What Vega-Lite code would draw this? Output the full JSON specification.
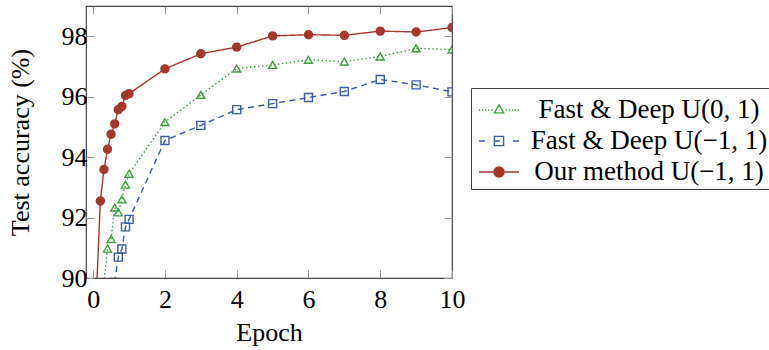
{
  "$schema": "https://vega.github.io/schema/vega-lite/v6.json",
  "width": 366,
  "height": 272,
  "autosize": {"type": "none"},
  "padding": {"left": 86, "top": 6, "right": 317, "bottom": 72},
  "background": "white",
  "config": {
    "view": {"stroke": "#444", "strokeWidth": 1.2},
    "font": "Liberation Serif",
    "axis": {
      "labelFont": "Liberation Serif",
      "labelFontSize": 26,
      "labelColor": "black",
      "labelFlush": false,
      "labelOverlap": false,
      "titleFont": "Liberation Serif",
      "titleFontSize": 26,
      "titleFontWeight": "normal",
      "titleColor": "black",
      "domain": false,
      "grid": false,
      "tickColor": "#999",
      "tickWidth": 1,
      "tickSize": -8
    }
  },
  "data": {
    "values": [
      {"series": "Fast & Deep U(0, 1)", "epoch": 0.3, "acc": 89.85},
      {"series": "Fast & Deep U(0, 1)", "epoch": 0.4, "acc": 90.97},
      {"series": "Fast & Deep U(0, 1)", "epoch": 0.5, "acc": 91.29},
      {"series": "Fast & Deep U(0, 1)", "epoch": 0.6, "acc": 92.33},
      {"series": "Fast & Deep U(0, 1)", "epoch": 0.7, "acc": 92.17},
      {"series": "Fast & Deep U(0, 1)", "epoch": 0.8, "acc": 92.6},
      {"series": "Fast & Deep U(0, 1)", "epoch": 0.9, "acc": 93.09},
      {"series": "Fast & Deep U(0, 1)", "epoch": 1.0, "acc": 93.45},
      {"series": "Fast & Deep U(0, 1)", "epoch": 2, "acc": 95.16},
      {"series": "Fast & Deep U(0, 1)", "epoch": 3, "acc": 96.06},
      {"series": "Fast & Deep U(0, 1)", "epoch": 4, "acc": 96.93},
      {"series": "Fast & Deep U(0, 1)", "epoch": 5, "acc": 97.05},
      {"series": "Fast & Deep U(0, 1)", "epoch": 6, "acc": 97.22},
      {"series": "Fast & Deep U(0, 1)", "epoch": 7, "acc": 97.16},
      {"series": "Fast & Deep U(0, 1)", "epoch": 8, "acc": 97.33},
      {"series": "Fast & Deep U(0, 1)", "epoch": 9, "acc": 97.6},
      {"series": "Fast & Deep U(0, 1)", "epoch": 10, "acc": 97.56},
      {"series": "Fast & Deep U(−1, 1)", "epoch": 0.6, "acc": 89.85},
      {"series": "Fast & Deep U(−1, 1)", "epoch": 0.7, "acc": 90.69},
      {"series": "Fast & Deep U(−1, 1)", "epoch": 0.8, "acc": 90.96},
      {"series": "Fast & Deep U(−1, 1)", "epoch": 0.9, "acc": 91.69},
      {"series": "Fast & Deep U(−1, 1)", "epoch": 1.0, "acc": 91.94},
      {"series": "Fast & Deep U(−1, 1)", "epoch": 2, "acc": 94.55},
      {"series": "Fast & Deep U(−1, 1)", "epoch": 3, "acc": 95.05},
      {"series": "Fast & Deep U(−1, 1)", "epoch": 4, "acc": 95.57},
      {"series": "Fast & Deep U(−1, 1)", "epoch": 5, "acc": 95.77},
      {"series": "Fast & Deep U(−1, 1)", "epoch": 6, "acc": 95.97},
      {"series": "Fast & Deep U(−1, 1)", "epoch": 7, "acc": 96.17},
      {"series": "Fast & Deep U(−1, 1)", "epoch": 8, "acc": 96.57},
      {"series": "Fast & Deep U(−1, 1)", "epoch": 9, "acc": 96.39},
      {"series": "Fast & Deep U(−1, 1)", "epoch": 10, "acc": 96.16},
      {"series": "Our method U(−1, 1)", "epoch": 0.1, "acc": 89.75},
      {"series": "Our method U(−1, 1)", "epoch": 0.2, "acc": 92.55},
      {"series": "Our method U(−1, 1)", "epoch": 0.3, "acc": 93.59},
      {"series": "Our method U(−1, 1)", "epoch": 0.4, "acc": 94.26},
      {"series": "Our method U(−1, 1)", "epoch": 0.5, "acc": 94.76},
      {"series": "Our method U(−1, 1)", "epoch": 0.6, "acc": 95.1},
      {"series": "Our method U(−1, 1)", "epoch": 0.7, "acc": 95.57},
      {"series": "Our method U(−1, 1)", "epoch": 0.8, "acc": 95.68},
      {"series": "Our method U(−1, 1)", "epoch": 0.9, "acc": 96.04},
      {"series": "Our method U(−1, 1)", "epoch": 1.0, "acc": 96.1},
      {"series": "Our method U(−1, 1)", "epoch": 2, "acc": 96.92},
      {"series": "Our method U(−1, 1)", "epoch": 3, "acc": 97.42},
      {"series": "Our method U(−1, 1)", "epoch": 4, "acc": 97.64},
      {"series": "Our method U(−1, 1)", "epoch": 5, "acc": 98.01},
      {"series": "Our method U(−1, 1)", "epoch": 6, "acc": 98.05},
      {"series": "Our method U(−1, 1)", "epoch": 7, "acc": 98.03},
      {"series": "Our method U(−1, 1)", "epoch": 8, "acc": 98.17},
      {"series": "Our method U(−1, 1)", "epoch": 9, "acc": 98.14},
      {"series": "Our method U(−1, 1)", "epoch": 10, "acc": 98.29}
    ]
  },
  "resolve": {
    "scale": {"stroke": "independent", "fill": "independent", "shape": "independent", "strokeDash": "independent", "size": "independent"},
    "axis": {"x": "independent", "y": "independent"}
  },
  "layer": [
    {
      "mark": {"type": "line", "clip": true, "strokeWidth": 1.4, "strokeCap": "butt"},
      "encoding": {
        "x": {"field": "epoch", "type": "quantitative",
          "scale": {"domain": [-0.2, 10], "nice": false, "zero": false},
          "axis": {"orient": "bottom", "values": [0, 2, 4, 6, 8, 10], "title": "Epoch", "labelPadding": 16, "titlePadding": 7}},
        "y": {"field": "acc", "type": "quantitative",
          "scale": {"domain": [90, 99], "nice": false, "zero": false},
          "axis": {"orient": "left", "values": [90, 92, 94, 96, 98], "title": "Test accuracy (%)", "labelPadding": 7, "titlePadding": 28}},
        "stroke": {"field": "series", "type": "nominal",
          "scale": {"domain": ["Fast & Deep U(0, 1)", "Fast & Deep U(−1, 1)", "Our method U(−1, 1)"], "range": ["#3da23d", "#3b5ca6", "#a5372c"]},
          "legend": null},
        "strokeDash": {"field": "series", "type": "nominal",
          "scale": {"domain": ["Fast & Deep U(0, 1)", "Fast & Deep U(−1, 1)", "Our method U(−1, 1)"], "range": [[1.5, 2.5], [6, 4.5], [1, 0]]},
          "legend": null}
      }
    },
    {
      "mark": {"type": "point", "clip": true, "strokeWidth": 1.4, "opacity": 1},
      "encoding": {
        "x": {"field": "epoch", "type": "quantitative",
          "scale": {"domain": [-0.2, 10], "nice": false, "zero": false},
          "axis": {"orient": "top", "values": [0, 2, 4, 6, 8, 10], "labels": false, "title": null}},
        "y": {"field": "acc", "type": "quantitative",
          "scale": {"domain": [90, 99], "nice": false, "zero": false},
          "axis": {"orient": "right", "values": [90, 92, 94, 96, 98], "labels": false, "title": null}},
        "stroke": {"field": "series", "type": "nominal",
          "scale": {"domain": ["Fast & Deep U(0, 1)", "Fast & Deep U(−1, 1)", "Our method U(−1, 1)"], "range": ["#3da23d", "#3b5ca6", "#a5372c"]},
          "legend": null},
        "fill": {"field": "series", "type": "nominal",
          "scale": {"domain": ["Fast & Deep U(0, 1)", "Fast & Deep U(−1, 1)", "Our method U(−1, 1)"], "range": ["transparent", "transparent", "#a5372c"]},
          "legend": null},
        "shape": {"field": "series", "type": "nominal",
          "scale": {"domain": ["Fast & Deep U(0, 1)", "Fast & Deep U(−1, 1)", "Our method U(−1, 1)"], "range": ["triangle-up", "square", "circle"]},
          "legend": null},
        "size": {"field": "series", "type": "nominal",
          "scale": {"domain": ["Fast & Deep U(0, 1)", "Fast & Deep U(−1, 1)", "Our method U(−1, 1)"], "range": [64, 64, 76]},
          "legend": null}
      }
    },
    {
      "transform": [{"filter": "datum.acc > 1000"}],
      "mark": {"type": "point", "strokeWidth": 1.4, "opacity": 1},
      "encoding": {
        "stroke": {"field": "series", "type": "nominal",
          "scale": {"domain": ["Fast & Deep U(0, 1)", "Fast & Deep U(−1, 1)", "Our method U(−1, 1)"], "range": ["#3da23d", "#3b5ca6", "#a5372c"]},
          "legend": {"title": null}},
        "fill": {"field": "series", "type": "nominal",
          "scale": {"domain": ["Fast & Deep U(0, 1)", "Fast & Deep U(−1, 1)", "Our method U(−1, 1)"], "range": ["transparent", "transparent", "#a5372c"]},
          "legend": {"title": null}},
        "shape": {"field": "series", "type": "nominal",
          "scale": {"domain": ["Fast & Deep U(0, 1)", "Fast & Deep U(−1, 1)", "Our method U(−1, 1)"],
            "range": [
              "M-1.18,0h0.08M-1.0,0h0.08M-0.82,0h0.08M-0.64,0h0.08M-0.46,0h0.08M0.38,0h0.08M0.56,0h0.08M0.74,0h0.08M0.92,0h0.08M1.1,0h0.08M0,-0.3L0.27,0.17L-0.27,0.17Z",
              "M-1.18,0H-0.82M0.82,0H1.18M-0.27,0H0.05M-0.27,-0.27H0.27V0.27H-0.27Z",
              "M-1.18,0H1.18M-0.3,0A0.3,0.3 0 1,0 0.3,0A0.3,0.3 0 1,0 -0.3,0Z"
            ]},
          "legend": {
            "title": null,
            "orient": "none",
            "legendX": 385,
            "legendY": 82,
            "strokeColor": "#444",
            "fillColor": "white",
            "padding": 4,
            "symbolSize": 1156,
            "symbolStrokeWidth": 1.4,
            "symbolOpacity": 1,
            "symbolOffset": 6,
            "labelAlign": "center",
            "labelOffset": 132,
            "labelFont": "Liberation Serif",
            "labelFontSize": 27,
            "labelColor": "black",
            "labelLimit": 400,
            "rowPadding": 0
          }
        }
      }
    }
  ]
}
